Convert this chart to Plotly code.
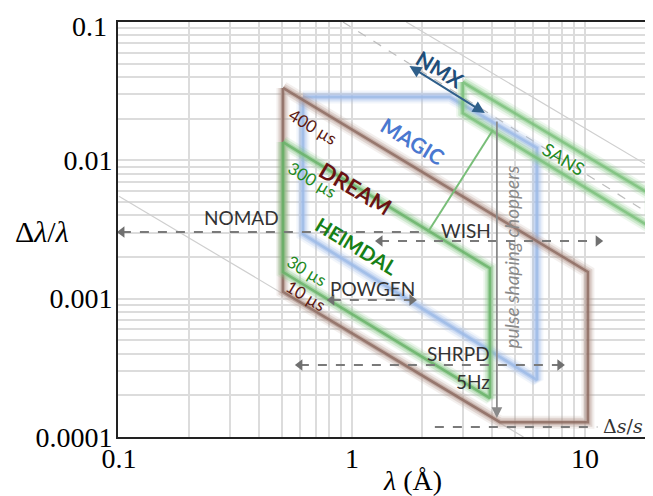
import numpy as np
import plotly.graph_objects as go

# instrument bandwidth / resolution regions (lambda in AA, dlambda/lambda)
dream_lam = [0.506, 0.506, 4.32, 10.3, 10.3, 0.506]
dream_res = [0.0334, 0.00112, 0.000128, 0.000128, 0.00156, 0.0334]

heimdal_lam = [0.506, 0.506, 3.91, 3.91, 0.506]
heimdal_res = [0.01355, 0.00156, 0.000191, 0.00166, 0.01355]

magic_lam = [0.616, 2.63, 6.22, 6.22, 0.616, 0.616]
magic_res = [0.0287, 0.0287, 0.01227, 0.000258, 0.00293, 0.0287]

sans_lam = [2.99, 19.2, 19.2, 2.99, 2.99]
sans_res = [0.0368, 0.00565, 0.00327, 0.0220, 0.0368]

link_lam = [2.12, 4.03]
link_res = [0.00303, 0.01656]

# thin guide lines
guide10_lam = [0.1, 5.45]
guide10_res = [0.0055, 0.0001]
guide_top_lam = [1.71, 19.4]
guide_top_res = [0.1, 0.0088]
guide_dash_lam = [0.915, 19.4]
guide_dash_res = [0.1, 0.004]

# dashed instrument ranges
nomad_lam = [0.103, 2.06]
nomad_res = [0.00303, 0.00303]
wish_lam = [1.32, 11.4]
wish_res = [0.00261, 0.00261]
powgen_lam = [0.82, 1.81]
powgen_res = [0.000977, 0.000977]
shrpd_lam = [0.598, 7.81]
shrpd_res = [0.000331, 0.000331]
ds_lam = [2.27, 11.3]
ds_res = [0.000118, 0.000118]

nmx_lam = [1.74, 3.72]
nmx_res = [0.0489, 0.0220]
chopper_lam = [4.19, 4.19]
chopper_res = [0.01955, 0.000137]

fig = go.Figure()


def thin(x, y, color, dash='solid', width=1.2):
    fig.add_trace(go.Scatter(x=x, y=y, mode='lines', hoverinfo='skip',
                             line=dict(color=color, width=width, dash=dash)))


def band(x, y, glow, core):
    # soft thick outline built from stacked strokes
    for w, op, c in [(13, 0.15, glow), (9, 0.3, glow), (5, 0.5, glow), (2.5, 0.75, core)]:
        fig.add_trace(go.Scatter(x=x, y=y, mode='lines', opacity=op, hoverinfo='skip',
                                 line=dict(color=c, width=w)))


thin(guide10_lam, guide10_res, '#cfcfcf')
thin(guide_top_lam, guide_top_res, '#cfcfcf')
thin(guide_dash_lam, guide_dash_res, '#bdbdbd', dash='dash')

band(magic_lam, magic_res, 'rgb(165,192,235)', 'rgb(155,185,230)')
band(sans_lam, sans_res, 'rgb(140,205,140)', 'rgb(120,190,120)')
band(dream_lam, dream_res, 'rgb(180,150,140)', 'rgb(135,100,90)')
band(heimdal_lam, heimdal_res, 'rgb(135,200,135)', 'rgb(100,175,100)')
thin(link_lam, link_res, 'rgb(120,190,120)', width=2)


def dashed_range(x, y, left=True, right=True):
    fig.add_trace(go.Scatter(x=x, y=y, mode='lines', hoverinfo='skip',
                             line=dict(color='#7a7a7a', width=2, dash='dash')))
    if left:
        fig.add_trace(go.Scatter(x=[x[0]], y=[y[0]], mode='markers', hoverinfo='skip',
                                 marker=dict(symbol='triangle-left', size=10, color='#707070')))
    if right:
        fig.add_trace(go.Scatter(x=[x[-1]], y=[y[-1]], mode='markers', hoverinfo='skip',
                                 marker=dict(symbol='triangle-right', size=10, color='#707070')))


dashed_range(nomad_lam, nomad_res, right=False)
dashed_range(wish_lam, wish_res)
dashed_range(powgen_lam, powgen_res)
dashed_range(shrpd_lam, shrpd_res)
dashed_range(ds_lam, ds_res, left=False, right=False)

lg = np.log10
ann = []
# arrows (annotation coordinates are log10 on log axes)
ann.append(dict(x=lg(nmx_lam[1]), y=lg(nmx_res[1]), ax=lg(nmx_lam[0]), ay=lg(nmx_res[0]),
                xref='x', yref='y', axref='x', ayref='y', text='', showarrow=True,
                arrowhead=2, arrowside='end+start', arrowsize=1.2, arrowwidth=2,
                arrowcolor='#2f5f8a'))
ann.append(dict(x=lg(chopper_lam[1]), y=lg(chopper_res[1]), ax=lg(chopper_lam[0]),
                ay=lg(chopper_res[0]), xref='x', yref='y', axref='x', ayref='y', text='',
                showarrow=True, arrowhead=2, arrowsize=1.2, arrowwidth=1.8,
                arrowcolor='#8a8a8a'))

sans_font = 'Lato'


def label(text, lx, ly, size, color, angle=0, bold=False, italic=False, xanchor='center',
          family=sans_font):
    t = text
    if bold:
        t = '<b>' + t + '</b>'
    if italic:
        t = '<i>' + t + '</i>'
    ann.append(dict(x=lx, y=ly, xref='x', yref='y', text=t, showarrow=False,
                    textangle=angle, xanchor=xanchor, yanchor='middle',
                    font=dict(family=family, size=size, color=color)))


label('NOMAD', -0.472, -2.410, 19, '#333333')
label('WISH', 0.489, -2.504, 19, '#333333')
label('POWGEN', 0.090, -2.923, 19, '#333333')
label('SHRPD', 0.601, -3.393, 19, '#333333', xanchor='right')
label('5Hz', 0.601, -3.596, 19, '#333333', xanchor='right')
label('Δ<i>s</i>/<i>s</i>', 1.163, -3.921, 19, '#333333', family='DejaVu Serif')
label('pulse shaping choppers', 0.685, -2.699, 19, '#8a8a8a', angle=-90, italic=True)
label('400 µs', -0.167, -1.752, 17, '#5c1a12', angle=31)
label('300 µs', -0.172, -2.142, 17, '#1f8a1f', angle=31)
label('30 µs', -0.193, -2.793, 17, '#1f8a1f', angle=31)
label('10 µs', -0.197, -2.974, 17, '#5c1a12', angle=31)
label('MAGIC', 0.258, -1.860, 21, '#4a78d0', angle=31, bold=True)
label('DREAM', 0.017, -2.200, 22, '#6a1212', angle=31, bold=True)
label('HEIMDAL', 0.021, -2.620, 20, '#168016', angle=31, bold=True)
label('SANS', 0.910, -1.991, 18, '#1f8a1f', angle=31)
label('NMX', 0.382, -1.340, 21, '#1f4e79', angle=31, bold=True)

tick_font = dict(family='Liberation Serif', size=28, color='black')

# top y tick label placed by hand so it stays inside the page
ann.append(dict(x=0, y=1, xref='paper', yref='paper', showarrow=False,
                xanchor='right', yanchor='top', xshift=-9, yshift=13,
                text='0.1', font=tick_font))

# axis titles
ann.append(dict(x=-0.142, y=0.494, xref='paper', yref='paper', showarrow=False,
                xanchor='center', yanchor='middle',
                text='Δ<i>λ</i>/<i>λ</i>', font=dict(family='Liberation Serif', size=30,
                                                       color='black')))
ann.append(dict(x=0.552, y=-0.106, xref='paper', yref='paper', showarrow=False,
                xanchor='center', yanchor='middle',
                text='<i>λ</i> (Å)', font=dict(family='Liberation Serif', size=28,
                                                color='black')))

axis_common = dict(
    type='log', showline=True, linecolor='#222222', linewidth=2, mirror=True,
    showgrid=True, gridcolor='#dcdcdc', gridwidth=1.5, zeroline=False,
    tickmode='linear', tick0=0, dtick=1, exponentformat='none', ticks='',
    automargin=False, tickfont=tick_font,
    minor=dict(dtick='D1', showgrid=True, gridcolor='#dcdcdc', gridwidth=1.5),
)

# the page body adds an 8px offset, so the figure is trimmed to keep the plot in place
fig.update_layout(
    width=645, height=488,
    margin=dict(l=110, r=1, t=14, b=59),
    paper_bgcolor='white', plot_bgcolor='white',
    showlegend=False,
    xaxis=dict(range=[-1.004, 1.288], ticklabelstandoff=-5, **axis_common),
    yaxis=dict(range=[-4.0, -1.0], ticklabelstandoff=-2, labelalias={'0.1': ' '},
               **axis_common),
    annotations=ann,
)

fig.write_html("out.html")
